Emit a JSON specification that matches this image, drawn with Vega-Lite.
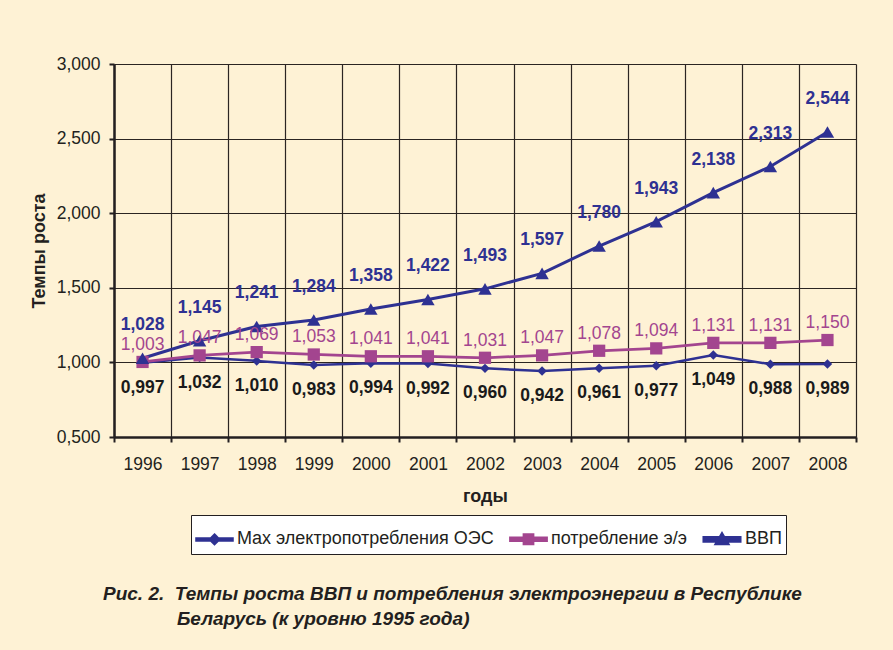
{
  "$schema": "https://vega.github.io/schema/vega-lite/v6.json",
  "width": 742,
  "height": 373,
  "autosize": {"type": "none"},
  "padding": {"left": 114, "top": 64, "right": 37, "bottom": 213},
  "background": "#fef2d5",
  "config": {
    "locale": {"number": {"decimal": ",", "thousands": " ", "grouping": [3], "currency": ["", ""]}},
    "view": {"stroke": null, "fill": "#fef2d5"},
    "font": "Liberation Sans",
    "axis": {
      "gridColor": "#2b2522", "gridWidth": 1.2, "gridOpacity": 1,
      "domainColor": "#231f20", "domainWidth": 2.5,
      "tickColor": "#231f20", "tickWidth": 2, "tickSize": 5,
      "labelColor": "#231f20", "labelFont": "Liberation Sans", "labelFontSize": 17.5,
      "titleColor": "#231f20", "titleFont": "Liberation Sans", "titleFontSize": 18, "titleFontWeight": "bold"
    }
  },
  "title": {
    "text": ["Рис. 2.\u00a0\u00a0Темпы роста ВВП и потребления электроэнергии в Республике", "\u200b\u00a0\u00a0\u00a0\u00a0\u00a0\u00a0\u00a0\u00a0\u00a0\u00a0\u00a0\u00a0\u00a0\u00a0Беларусь (к уровню 1995 года)"],
    "orient": "bottom",
    "anchor": "start",
    "frame": "group",
    "dx": -11,
    "offset": 30,
    "font": "Liberation Sans",
    "fontSize": 19,
    "fontWeight": "bold",
    "fontStyle": "italic",
    "color": "#231f20",
    "lineHeight": 25
  },
  "data": {"values": [
    {"year": "1996", "series": "Max электропотребления ОЭС", "value": 0.997},
    {"year": "1997", "series": "Max электропотребления ОЭС", "value": 1.032},
    {"year": "1998", "series": "Max электропотребления ОЭС", "value": 1.010},
    {"year": "1999", "series": "Max электропотребления ОЭС", "value": 0.983},
    {"year": "2000", "series": "Max электропотребления ОЭС", "value": 0.994},
    {"year": "2001", "series": "Max электропотребления ОЭС", "value": 0.992},
    {"year": "2002", "series": "Max электропотребления ОЭС", "value": 0.960},
    {"year": "2003", "series": "Max электропотребления ОЭС", "value": 0.942},
    {"year": "2004", "series": "Max электропотребления ОЭС", "value": 0.961},
    {"year": "2005", "series": "Max электропотребления ОЭС", "value": 0.977},
    {"year": "2006", "series": "Max электропотребления ОЭС", "value": 1.049},
    {"year": "2007", "series": "Max электропотребления ОЭС", "value": 0.988},
    {"year": "2008", "series": "Max электропотребления ОЭС", "value": 0.989},
    {"year": "1996", "series": "потребление э/э", "value": 1.003},
    {"year": "1997", "series": "потребление э/э", "value": 1.047},
    {"year": "1998", "series": "потребление э/э", "value": 1.069},
    {"year": "1999", "series": "потребление э/э", "value": 1.053},
    {"year": "2000", "series": "потребление э/э", "value": 1.041},
    {"year": "2001", "series": "потребление э/э", "value": 1.041},
    {"year": "2002", "series": "потребление э/э", "value": 1.031},
    {"year": "2003", "series": "потребление э/э", "value": 1.047},
    {"year": "2004", "series": "потребление э/э", "value": 1.078},
    {"year": "2005", "series": "потребление э/э", "value": 1.094},
    {"year": "2006", "series": "потребление э/э", "value": 1.131},
    {"year": "2007", "series": "потребление э/э", "value": 1.131},
    {"year": "2008", "series": "потребление э/э", "value": 1.150},
    {"year": "1996", "series": "ВВП", "value": 1.028},
    {"year": "1997", "series": "ВВП", "value": 1.145},
    {"year": "1998", "series": "ВВП", "value": 1.241},
    {"year": "1999", "series": "ВВП", "value": 1.284},
    {"year": "2000", "series": "ВВП", "value": 1.358},
    {"year": "2001", "series": "ВВП", "value": 1.422},
    {"year": "2002", "series": "ВВП", "value": 1.493},
    {"year": "2003", "series": "ВВП", "value": 1.597},
    {"year": "2004", "series": "ВВП", "value": 1.780},
    {"year": "2005", "series": "ВВП", "value": 1.943},
    {"year": "2006", "series": "ВВП", "value": 2.138},
    {"year": "2007", "series": "ВВП", "value": 2.313},
    {"year": "2008", "series": "ВВП", "value": 2.544}
  ]},
  "encoding": {
    "x": {
      "field": "year", "type": "ordinal", "title": "годы",
      "scale": {"type": "band", "paddingInner": 0, "paddingOuter": 0},
      "axis": {"labelAngle": 0, "tickBand": "extent", "grid": true, "labelPadding": 13, "titlePadding": 15}
    },
    "y": {
      "field": "value", "type": "quantitative", "title": "Темпы роста",
      "scale": {"domain": [0.5, 3.0], "nice": false, "zero": false},
      "axis": {"values": [0.5, 1.0, 1.5, 2.0, 2.5, 3.0], "format": ".3f", "grid": true, "labelPadding": 9, "titlePadding": 8}
    }
  },
  "layer": [
    {
      "mark": {"type": "line", "bandPosition": 0.5},
      "encoding": {
        "color": {
          "field": "series", "type": "nominal",
          "scale": {"domain": ["Max электропотребления ОЭС", "потребление э/э", "ВВП"], "range": ["#2e3192", "#a3458f", "#2e3192"]},
          "legend": {
            "title": null,
            "orient": "none",
            "legendX": 77,
            "legendY": 451,
            "direction": "horizontal",
            "fillColor": "#ffffff",
            "strokeColor": "#231f20",
            "padding": 4,
            "symbolType": "M-1,-0.08H1V0.08H-1Z",
            "symbolSize": 1300,
            "symbolStrokeWidth": 0,
            "labelFont": "Liberation Sans",
            "labelFontSize": 18,
            "labelColor": "#231f20",
            "labelOffset": 3,
            "columnPadding": 10,
            "labelLimit": 400,
            "encode": {
              "symbols": {
                "update": {
                  "shape": {"signal": "datum.value === 'ВВП' ? 'M-1,-0.1H1V0.1H-1Z M0,-0.3L0.32,0.24L-0.32,0.24Z' : datum.value === 'потребление э/э' ? 'M-1,-0.07H1V0.07H-1Z M-0.25,-0.25H0.25V0.25H-0.25Z' : 'M-1,-0.055H1V0.055H-1Z M0,-0.26L0.26,0L0,0.26L-0.26,0Z'"},
                  "fill": {"signal": "datum.value === 'потребление э/э' ? '#a3458f' : '#2e3192'"},
                  "stroke": {"value": "transparent"},
                  "opacity": {"value": 1}
                }
              }
            }
          }
        },
        "strokeWidth": {
          "field": "series", "type": "nominal",
          "scale": {"domain": ["Max электропотребления ОЭС", "потребление э/э", "ВВП"], "range": [2.5, 3, 5]},
          "legend": null
        }
      }
    },
    {
      "transform": [{"filter": "datum.series === 'Max электропотребления ОЭС'"}],
      "mark": {"type": "point", "shape": "diamond", "size": 90, "filled": true, "opacity": 1, "color": "#2e3192", "bandPosition": 0.5}
    },
    {
      "transform": [{"filter": "datum.series === 'потребление э/э'"}],
      "mark": {"type": "point", "shape": "square", "size": 150, "filled": true, "opacity": 1, "color": "#a3458f", "bandPosition": 0.5}
    },
    {
      "transform": [{"filter": "datum.series === 'ВВП'"}],
      "mark": {"type": "point", "shape": "triangle-up", "size": 180, "filled": true, "opacity": 1, "color": "#2e3192", "bandPosition": 0.5}
    },
    {
      "transform": [{"filter": "datum.series === 'ВВП'"}],
      "mark": {"type": "text", "dy": -33, "font": "Liberation Sans", "fontSize": 17.5, "fontWeight": "bold", "color": "#2e3192", "bandPosition": 0.5},
      "encoding": {"text": {"field": "value", "type": "quantitative", "format": ".3f"}}
    },
    {
      "transform": [{"filter": "datum.series === 'потребление э/э'"}],
      "mark": {"type": "text", "dy": -17, "font": "Liberation Sans", "fontSize": 17.5, "fontWeight": "normal", "color": "#a3458f", "bandPosition": 0.5},
      "encoding": {"text": {"field": "value", "type": "quantitative", "format": ".3f"}}
    },
    {
      "transform": [{"filter": "datum.series === 'Max электропотребления ОЭС'"}],
      "mark": {"type": "text", "dy": 25, "font": "Liberation Sans", "fontSize": 17.5, "fontWeight": "bold", "color": "#1a1a1a", "bandPosition": 0.5},
      "encoding": {"text": {"field": "value", "type": "quantitative", "format": ".3f"}}
    }
  ]
}
